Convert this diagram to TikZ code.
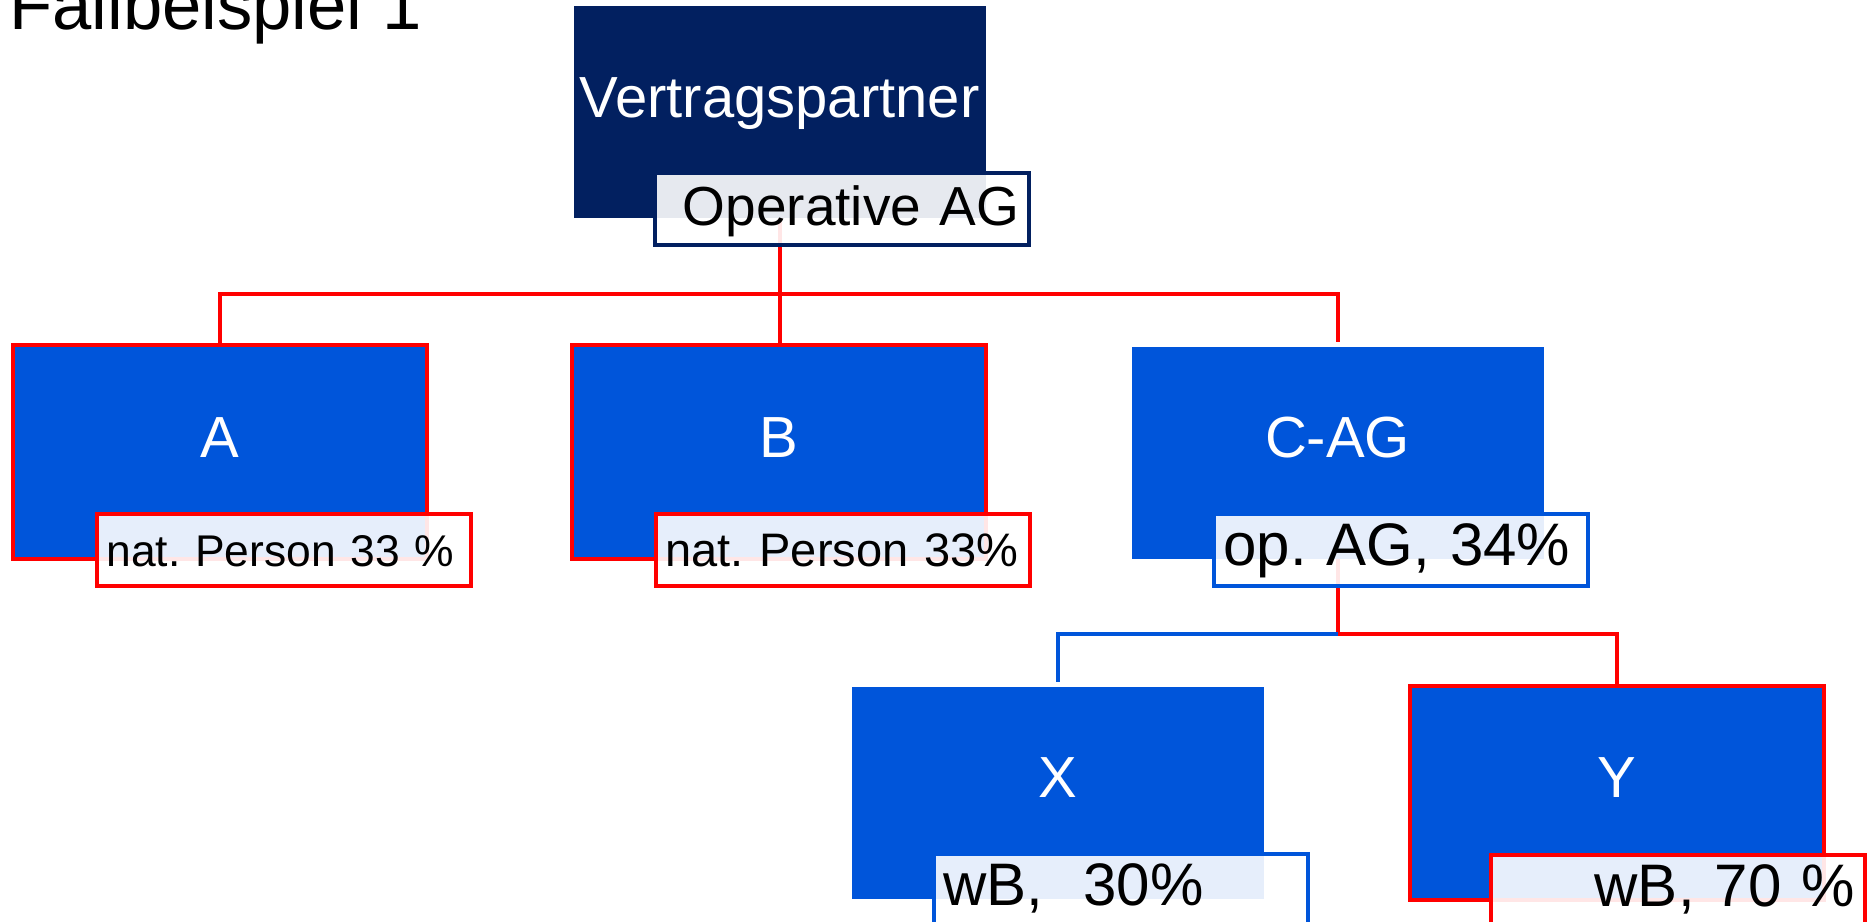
\documentclass[tikz,border=0pt]{standalone}
\usepackage{fontspec}
\setmainfont{Liberation Sans}
\usepackage{tikz}
\usetikzlibrary{calc,positioning}
\definecolor{navy}{RGB}{2,32,96}
\definecolor{boxblue}{RGB}{0,85,218}
\definecolor{linkred}{RGB}{255,0,0}
\frenchspacing
\tikzset{
  box/.style={fill=boxblue, text=white, minimum width=206pt, minimum height=106pt,
    inner sep=0pt, outer sep=0pt, text height=21pt, text depth=16pt,
    font=\fontsize{29}{34}\selectfont},
  redbox/.style={box, draw=linkred, line width=2pt, minimum width=207pt, minimum height=107pt},
  tag/.style={draw, fill=white, fill opacity=0.9, text opacity=1, line width=2pt,
    text width=177pt, inner xsep=5pt, inner ysep=0pt, minimum height=36pt,
    text height=20pt, text depth=4pt, anchor=south east, outer sep=0pt,
    execute at begin node=\frenchspacing},
  link/.style={line width=2pt},
}
\begin{document}
\begin{tikzpicture}[x=0.5pt,y=-0.5pt]
  \useasboundingbox (0,0) rectangle (1867,921);
  \clip (0,0) rectangle (1867,921);
  \node[anchor=base west, inner sep=0pt, font=\fontsize{35.3}{41}\selectfont] (title) at (9,29) {Fallbeispiel 1};
  % boxes
  \node[box, fill=navy] (vp) at (779.5,112) {Vertragspartner};
  \node[redbox] (A) at (219.5,452) {A};
  \node[redbox] (B) at (778.5,452) {B};
  \node[box] (C) at (1337.5,452.5) {C-AG};
  \node[box] (X) at (1057.5,792.5) {X};
  \node[redbox] (Y) at (1616.75,792.5) {Y};
  % connectors
  \coordinate (topbar) at (779.5,294);
  \coordinate (lowbar) at (1337.5,634);
  \draw[link, draw=linkred] (vp.south) -- (vp.south |- B.north);
  \draw[link, draw=linkred] (A.north) |- (topbar) -| ([yshift=2.25pt]C.north);
  \draw[link, draw=linkred] (C.south) -- (lowbar) -| (Y.north);
  \draw[link, draw=boxblue] (lowbar) -| ([yshift=2.25pt]X.north);
  % labels
  \node[tag, draw=navy, align=right, font=\fontsize{27.5}{32}\selectfont] (tagvp) at ([shift={(43.5,27)}]vp.south east) {Operative AG};
  \node[tag, draw=linkred, align=left, font=\fontsize{22.2}{27}\selectfont] (tagA) at ([shift={(44,27)}]A.south east) {nat. Person 33 \%};
  \node[tag, draw=linkred, align=left, font=\fontsize{23.5}{28}\selectfont] (tagB) at ([shift={(44,27)}]B.south east) {nat. Person 33\%};
  \node[tag, draw=boxblue, align=left, font=\fontsize{30}{35}\selectfont] (tagC) at ([shift={(44,27)}]C.south east) {op. AG, 34\%};
  \node[tag, draw=boxblue, align=left, font=\fontsize{30}{35}\selectfont] (tagX) at ([shift={(44,27)}]X.south east) {wB,~~30\%};
  \node[tag, draw=linkred, align=right, font=\fontsize{30}{35}\selectfont] (tagY) at ([shift={(41,27)}]Y.south east) {wB, 70 \%};
\end{tikzpicture}
\end{document}
